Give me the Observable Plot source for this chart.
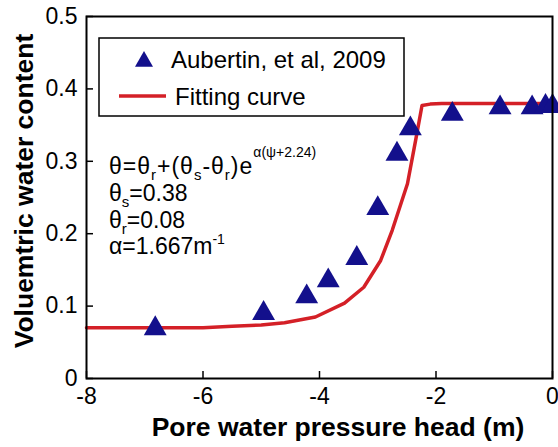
<!DOCTYPE html>
<html><head><meta charset="utf-8">
<script src="https://cdn.jsdelivr.net/npm/d3@7"></script>
<script src="https://cdn.jsdelivr.net/npm/@observablehq/plot@0.6"></script>
<style>body{margin:0;background:#fff} #chart{width:558px;height:447px}</style>
</head><body><div id="chart"></div>
<script>
// Measured data (Aubertin, et al, 2009)
const obsHead  = [-6.82, -4.96, -4.22, -3.85, -3.36, -3.00, -2.67, -2.44, -1.72, -0.90, -0.35, -0.12, 0.0];
const obsTheta = [0.069, 0.090, 0.113, 0.135, 0.166, 0.235, 0.310, 0.345, 0.365, 0.374, 0.374, 0.376, 0.376];
// Fitting curve
const fitHead  = [-8, -6, -5.5, -5.0, -4.6, -4.07, -3.57, -3.24, -2.95, -2.75, -2.49, -2.35, -2.24, -2.1, -1.9, 0];
const fitTheta = [0.070, 0.070, 0.072, 0.074, 0.077, 0.085, 0.104, 0.126, 0.163, 0.205, 0.269, 0.329, 0.377, 0.379, 0.380, 0.380];
const xTicks = [-8, -6, -4, -2, 0];
const yTicks = [0, 0.1, 0.2, 0.3, 0.4, 0.5];
const legendLabels = ["Aubertin, et al, 2009", "Fitting curve"];
const xLabel = "Pore water pressure head (m)";
const yLabel = "Voluemtric water content";

const navy = "#13108c", red = "#d42027";
const obs = obsHead.map((h, i) => ({h, t: obsTheta[i]}));
const fit = fitHead.map((h, i) => ({h, t: fitTheta[i]}));
const font = "'Liberation Sans', Arial, sans-serif";

const chart = Plot.plot({
  width: 558, height: 447,
  marginLeft: 86, marginRight: 6, marginTop: 16, marginBottom: 69,
  style: {fontFamily: font, fontSize: "23px", background: "white", color: "black", overflow: "visible"},
  x: {domain: [-8, 0]},
  y: {domain: [0, 0.5]},
  marks: [
    Plot.axisX({ticks: xTicks, tickSize: 0, tickPadding: 9, tickFormat: d => String(d), label: null, fontSize: 23}),
    Plot.axisY({ticks: yTicks, tickSize: 0, tickPadding: 9, tickFormat: d => String(d), label: null, fontSize: 23}),
    Plot.ruleX(xTicks, {x: d => d, y1: 0, y2: 0.0097, stroke: "black", strokeWidth: 1.5}),
    Plot.ruleY(yTicks, {y: d => d, x1: -8, x2: -7.88, stroke: "black", strokeWidth: 1.5}),
    Plot.line(fit, {x: "h", y: "t", stroke: red, strokeWidth: 3.5}),
    Plot.dot(obs, {x: "h", y: "t", symbol: "triangle", r: 8.5, fill: navy, stroke: "none"}),
    Plot.frame({stroke: "black", strokeWidth: 2})
  ]
});
document.getElementById("chart").appendChild(chart);

const svg = d3.select(chart);
// axis titles
svg.append("text").attr("x", 338).attr("y", 436).attr("text-anchor", "middle")
  .attr("font-family", font).attr("font-size", 26.5).attr("font-weight", "bold").attr("fill", "black").text(xLabel);
svg.append("text").attr("transform", "translate(33,191) rotate(-90)").attr("text-anchor", "middle")
  .attr("font-family", font).attr("font-size", 26.5).attr("font-weight", "bold").attr("fill", "black").text(yLabel);

// legend
const lg = svg.append("g").attr("font-family", font).attr("font-size", 24).attr("fill", "black").attr("text-anchor", "start");
lg.append("rect").attr("x", 99).attr("y", 38).attr("width", 305).attr("height", 78)
  .attr("fill", "white").attr("stroke", "black").attr("stroke-width", 1.5);
lg.append("path").attr("d", d3.symbol(d3.symbolTriangle, 140)()).attr("transform", "translate(144,61.5)").attr("fill", navy);
lg.append("text").attr("x", 171).attr("y", 67.5).text(legendLabels[0]);
lg.append("line").attr("x1", 119).attr("x2", 166).attr("y1", 96).attr("y2", 96).attr("stroke", red).attr("stroke-width", 3.5);
lg.append("text").attr("x", 175).attr("y", 105).text(legendLabels[1]);

// equation annotation
const an = svg.append("g").attr("font-family", font).attr("font-size", 23).attr("fill", "black").attr("text-anchor", "start");
const SUB = 15, SD = 6;
let t1 = an.append("text").attr("x", 109).attr("y", 174).attr("letter-spacing", 1);
t1.append("tspan").text("θ=θ");
t1.append("tspan").attr("font-size", SUB).attr("dy", SD).text("r");
t1.append("tspan").attr("dy", -SD).text("+(θ");
t1.append("tspan").attr("font-size", SUB).attr("dy", SD).text("s");
t1.append("tspan").attr("dy", -SD).text("-θ");
t1.append("tspan").attr("font-size", SUB).attr("dy", SD).text("r");
t1.append("tspan").attr("dy", -SD).text(")e");
t1.append("tspan").attr("font-size", 14).attr("dy", -17).attr("letter-spacing", 0).text("α(ψ+2.24)");
let t2 = an.append("text").attr("x", 109).attr("y", 201);
t2.append("tspan").text("θ");
t2.append("tspan").attr("font-size", SUB).attr("dy", SD).text("s");
t2.append("tspan").attr("dy", -SD).text("=0.38");
let t3 = an.append("text").attr("x", 109).attr("y", 228);
t3.append("tspan").text("θ");
t3.append("tspan").attr("font-size", SUB).attr("dy", SD).text("r");
t3.append("tspan").attr("dy", -SD).text("=0.08");
let t4 = an.append("text").attr("x", 109).attr("y", 254);
t4.append("tspan").text("α=1.667m");
t4.append("tspan").attr("font-size", 14).attr("dy", -10).text("-1");
</script>
</body></html>
